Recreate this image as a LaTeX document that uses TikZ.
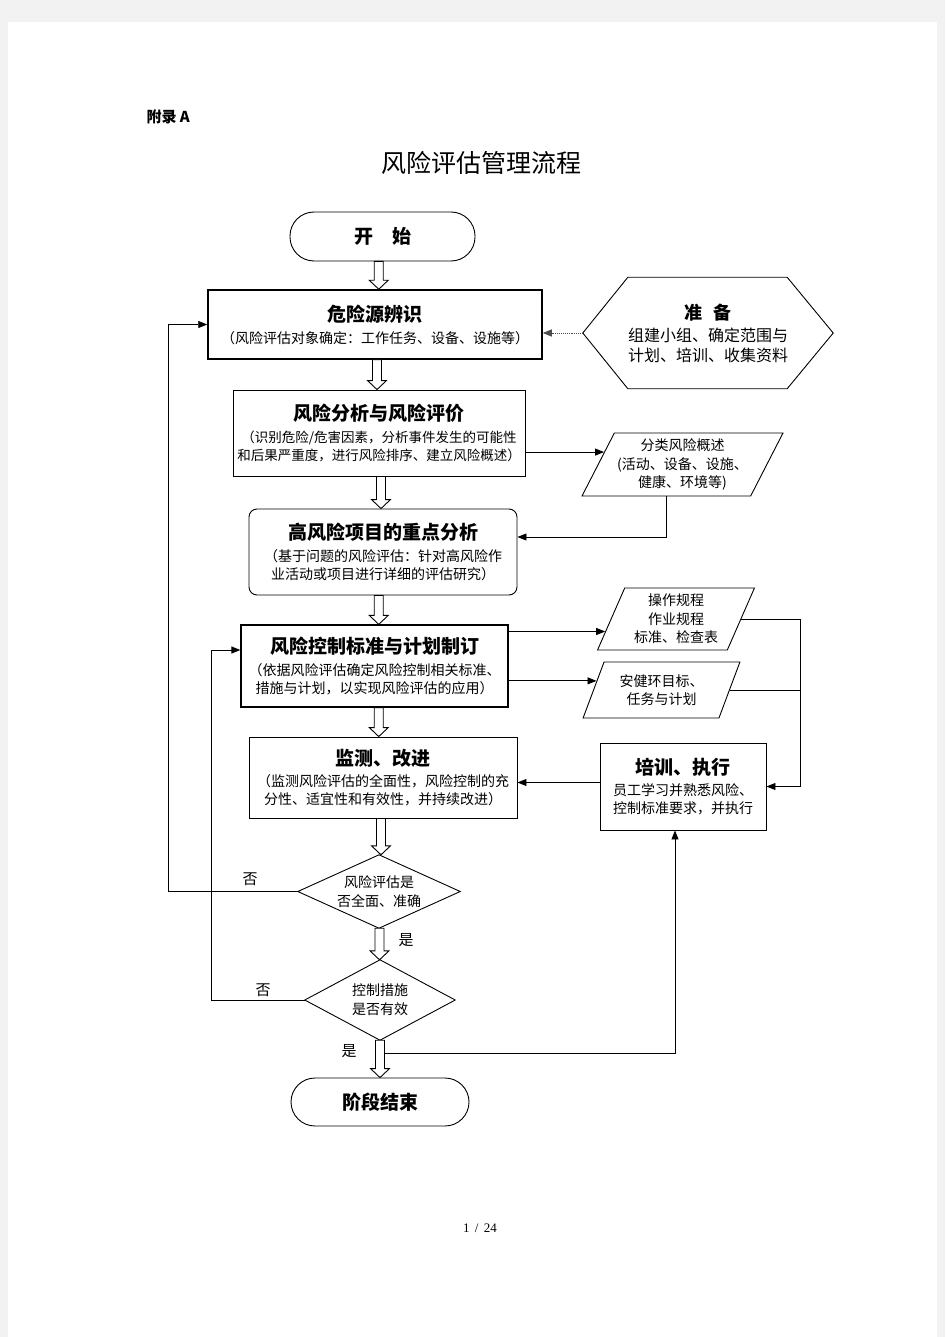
\documentclass[tikz,border=0pt]{standalone}
\usepackage{fontspec}
\setmainfont{Liberation Serif}
\newfontfamily\cjk{Noto Sans CJK SC}
\usetikzlibrary{shapes.geometric,arrows.meta,calc}

\newcommand{\hfont}{\cjk\bfseries\fontsize{19}{22}\selectfont}
% hollow block arrow between two stacked nodes
\newcommand{\hollowarrow}[2]{%
  \draw[hollow] let \p1=(#1.south), \p2=(#2.north) in
    ({0.5*\x1+0.5*\x2-4.5pt},\y1) -- ({0.5*\x1+0.5*\x2-4.5pt},{\y2+9pt})
    -- ({0.5*\x1+0.5*\x2-9.5pt},{\y2+9pt}) -- ({0.5*\x1+0.5*\x2},\y2)
    -- ({0.5*\x1+0.5*\x2+9.5pt},{\y2+9pt}) -- ({0.5*\x1+0.5*\x2+4.5pt},{\y2+9pt})
    -- ({0.5*\x1+0.5*\x2+4.5pt},\y1) -- cycle;}

\begin{document}
\begin{tikzpicture}[x=1pt, y=-1pt, >={Triangle[length=9pt,width=7pt]},
    box/.style={draw, line width=0.9pt, align=center, inner sep=0pt,
      font=\cjk\fontsize{14}{18}\selectfont},
    term/.style={box, rounded corners=24pt},
    ghost/.style={align=center, inner sep=0pt, font=\cjk\fontsize{14}{19}\selectfont},
    data/.style={trapezium, trapezium stretches=true, draw, line width=0.9pt,
      align=center, inner sep=0pt, font=\cjk\fontsize{14}{18.5}\selectfont},
    outline/.style={line width=0.9pt},
    link/.style={->, line width=0.9pt},
    hollow/.style={draw, line width=0.9pt, fill=white},
    lbl/.style={font=\cjk\fontsize{15}{15}\selectfont}]

    % page
    \fill[gray!10] (0,0) rectangle (945,1337);
    \fill[white] (8,22) rectangle (937,1337);

    \node[font=\cjk\bfseries\fontsize{15}{15}\selectfont, anchor=west] (appx) at (143,117) {附录 A};
    \node[font=\cjk\fontsize{25}{25}\selectfont] (title) at (481,163) {风险评估管理流程};

    % main column
    \node[term, minimum width=185, minimum height=49] (start) at (382.5,236.5) {\hfont 开　始};
    \node[box, line width=1.5pt, minimum width=334, minimum height=69] (haz) at (375,324.5)
      {{\hfont 危险源辨识}\\[4pt]（风险评估对象确定：工作任务、设备、设施等）};
    \node[box, minimum width=292, minimum height=86, font=\cjk\fontsize{13.5}{18}\selectfont] (risk) at (379,433)
      {{\hfont 风险分析与风险评价}\\[4pt]（识别危险/危害因素，分析事件发生的可能性\\和后果严重度，进行风险排序、建立风险概述）};
    \node[box, rounded corners=8pt, minimum width=268, minimum height=86] (hri) at (383,552)
      {{\hfont 高风险项目的重点分析}\\[4pt]（基于问题的风险评估：针对高风险作\\业活动或项目进行详细的评估研究）};
    \node[box, line width=1.3pt, minimum width=267, minimum height=82] (ctrl) at (374.5,666)
      {{\hfont 风险控制标准与计划制订}\\[4pt]（依据风险评估确定风险控制相关标准、\\措施与计划，以实现风险评估的应用）};
    \node[box, minimum width=268, minimum height=81] (mon) at (383,777.5)
      {{\hfont 监测、改进}\\[3pt]（监测风险评估的全面性，风险控制的充\\分性、适宜性和有效性，并持续改进）};
    \node[ghost, minimum width=162, minimum height=73] (chk1) at (379,891.5) {风险评估是\\否全面、准确};
    \draw[outline] (chk1.west) -- (chk1.north) -- (chk1.east) -- (chk1.south) -- cycle;
    \node[ghost, minimum width=150, minimum height=80] (chk2) at (380,1000) {控制措施\\是否有效};
    \draw[outline] (chk2.west) -- (chk2.north) -- (chk2.east) -- (chk2.south) -- cycle;
    \node[term, minimum width=178, minimum height=48] (stop) at (380,1102) {\hfont 阶段结束};

    % right column
    \node[ghost, minimum width=250, minimum height=111, font=\cjk\fontsize{16}{20}\selectfont] (prep) at (708,333)
      {{\cjk\bfseries\fontsize{18}{20}\selectfont 准\hspace{0.6em}备}\\[2pt]组建小组、确定范围与\\计划、培训、收集资料};
    \draw[outline] (prep.west) -- ([xshift=45pt]prep.north west) -- ([xshift=-46pt]prep.north east)
      -- (prep.east) -- ([xshift=-46pt]prep.south east) -- ([xshift=45pt]prep.south west) -- cycle;
    \node[data, trapezium left angle=59, trapezium right angle=121, minimum width=201, minimum height=63] (cat) at (682.5,464.5)
      {分类风险概述\\(活动、设备、设施、\\健康、环境等)};
    \node[data, trapezium left angle=66, trapezium right angle=114, minimum width=157, minimum height=62] (op) at (676,619)
      {操作规程\\作业规程\\标准、检查表};
    \node[data, trapezium left angle=64, trapezium right angle=116, minimum width=157, minimum height=56] (hse) at (661.5,690)
      {安健环目标、\\任务与计划};
    \node[box, minimum width=166, minimum height=87] (train) at (683,786.5)
      {{\hfont 培训、执行}\\[3pt]员工学习并熟悉风险、\\控制标准要求，并执行};

    % connectors
    \draw[link, densely dotted, draw=black!70] (prep.west) -- (prep.west -| haz.east);
    \draw[link] (risk.east |- cat.171) -- (cat.171);
    \draw[link] (cat.bottom side) |- ([yshift=15pt]hri.east);
    \draw[link] (ctrl.east |- op.190) -- (op.190);
    \draw[link] (ctrl.east |- hse.172) -- (hse.172);
    \coordinate (bus) at (800,619);
    \draw[outline] (op.right side) -- (op.right side -| bus);
    \draw[outline] (hse.right side) -- (hse.right side -| bus);
    \draw[link] (op.right side -| bus) |- (train.east);
    \draw[link] ([yshift=4pt]train.west) -- ([yshift=4pt]train.west -| mon.east);
    \draw[link] (chk1.west) -- ++(-129,0) |- (haz.west);
    \draw[link] (chk2.west) -- ++(-93,0) |- ([yshift=16pt]ctrl.west);
    \draw[link] ($(chk2.south)+(4,13)$) -| ([xshift=-8pt]train.south);
    \node[lbl] (no1) at (250,879) {否};
    \node[lbl] (no2) at (263,990) {否};
    \node[lbl] (yes1) at (406,940) {是};
    \node[lbl] (yes2) at (349,1051) {是};

    \hollowarrow{start}{haz}
    \hollowarrow{haz}{risk}
    \hollowarrow{risk}{hri}
    \hollowarrow{hri}{ctrl}
    \hollowarrow{ctrl}{mon}
    \hollowarrow{mon}{chk1}
    \hollowarrow{chk1}{chk2}
    \hollowarrow{chk2}{stop}

    \node[font=\fontsize{13}{13}\selectfont] (page) at (480,1228) {1 \,/\, 24};
\end{tikzpicture}
\end{document}
